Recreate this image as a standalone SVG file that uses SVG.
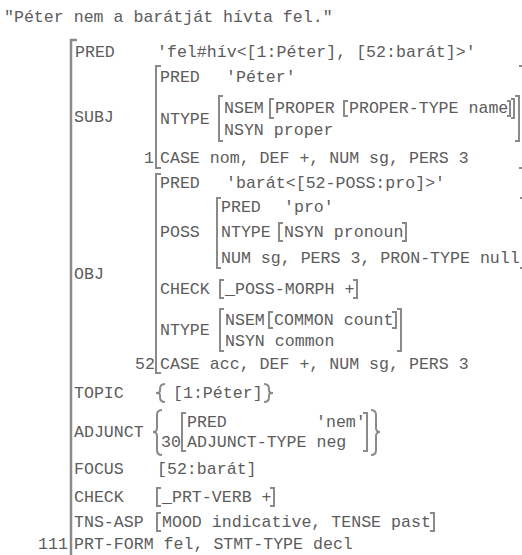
<svg xmlns="http://www.w3.org/2000/svg" width="522" height="555" viewBox="0 0 522 555">
<style>
text { font-family: "Liberation Mono", "Courier New", monospace; font-size: 16.6px; fill: #5c5c5c; }
.br { fill: none; stroke: #8a8a8a; stroke-width: 2; }
.bo { fill: none; stroke: #8a8a8a; stroke-width: 2.5; }
</style>
<rect width="522" height="555" fill="#fff"/>
<g id="title"><text x="4" y="22">"Péter nem a barátját hívta fel."</text></g>

<g id="brackets">
  <path class="bo" d="M77 40H71V562"/>
  <!-- SUBJ -->
  <path class="br" d="M161 66H156V168H161"/>
  <path class="br" d="M519 66H524V168H519"/>
  <path class="br" d="M223 96H219V141H223"/>
  <path class="br" d="M515 96H519V141H515"/>
  <path class="br" d="M274 99H270V118H274"/>
  <path class="br" d="M511 99H514V118H511"/>
  <path class="br" d="M348 101H344V116H348"/>
  <path class="br" d="M507 101H510V116H507"/>
  <!-- OBJ -->
  <path class="br" d="M161 174H156V373H161"/>
  <path class="br" d="M221 198H217V268H221"/>
  <path class="br" d="M520 198H524V268H520"/>
  <path class="br" d="M283 223H279V241H283"/>
  <path class="br" d="M402 223H406V241H402"/>
  <path class="br" d="M224 280H220V298H224"/>
  <path class="br" d="M353 280H357V298H353"/>
  <path class="br" d="M224 309H220V351H224"/>
  <path class="br" d="M397 309H401V351H397"/>
  <path class="br" d="M273 312H269V328H273"/>
  <path class="br" d="M392 312H396V328H392"/>
  <!-- ADJUNCT -->
  <path class="br" d="M186 413H182V451H186"/>
  <path class="br" d="M363 413H367V451H363"/>
  <!-- CHECK / TNS-ASP -->
  <path class="br" d="M161 488H157V506H161"/>
  <path class="br" d="M270 488H274V506H270"/>
  <path class="br" d="M161 513H157V531H161"/>
  <path class="br" d="M430 513H434V531H430"/>
  <!-- braces -->
  <path class="br" d="M165 384Q160 384 160 389V391Q160 393 156 393Q160 393 160 395V397Q160 402 165 402"/>
  <path class="br" d="M264 384Q269 384 269 389V391Q269 393 273 393Q269 393 269 395V397Q269 402 264 402"/>
  <path class="br" d="M162 410Q157 410 157 415V428Q157 432 153 432Q157 432 157 436V450Q157 455 162 455"/>
  <path class="br" d="M371 410Q376 410 376 415V428Q376 432 380 432Q376 432 376 436V450Q376 455 371 455"/>
</g>

<g id="outer">
  <text x="75" y="57">PRED</text>
  <text x="157" y="57">'fel#hív&lt;[1:Péter], [52:barát]&gt;'</text>
  <text x="74" y="122">SUBJ</text>
  <text x="74" y="279">OBJ</text>
  <text x="74" y="398">TOPIC</text>
  <text x="74" y="437">ADJUNCT</text>
  <text x="74" y="474">FOCUS</text>
  <text x="157" y="474">[52:barát]</text>
  <text x="74" y="502">CHECK</text>
  <text x="162" y="502">_PRT-VERB +</text>
  <text x="74" y="527">TNS-ASP</text>
  <text x="162" y="527">MOOD indicative, TENSE past</text>
  <text x="38" y="549">111</text>
  <text x="74" y="549">PRT-FORM fel, STMT-TYPE decl</text>
</g>

<g id="subj">
  <text x="160" y="82">PRED</text>
  <text x="226" y="82">'Péter'</text>
  <text x="160" y="124">NTYPE</text>
  <text x="224" y="113">NSEM</text>
  <text x="275" y="113">PROPER</text>
  <text x="349" y="113">PROPER-TYPE name</text>
  <text x="224" y="135">NSYN proper</text>
  <text x="144" y="163">1</text>
  <text x="160" y="163">CASE nom, DEF +, NUM sg, PERS 3</text>
</g>

<g id="obj">
  <text x="160" y="188">PRED</text>
  <text x="226" y="188">'barát&lt;[52-POSS:pro]&gt;'</text>
  <text x="160" y="237">POSS</text>
  <text x="160" y="294">CHECK</text>
  <text x="225" y="294">_POSS-MORPH +</text>
  <text x="160" y="335">NTYPE</text>
  <text x="225" y="325">NSEM</text>
  <text x="274" y="325">COMMON count</text>
  <text x="225" y="346">NSYN common</text>
  <text x="135" y="369">52</text>
  <text x="160" y="369">CASE acc, DEF +, NUM sg, PERS 3</text>
</g>

<g id="poss">
  <text x="221" y="212">PRED</text>
  <text x="284" y="212">'pro'</text>
  <text x="221" y="237">NTYPE</text>
  <text x="284" y="237">NSYN pronoun</text>
  <text x="221" y="263">NUM sg, PERS 3, PRON-TYPE null</text>
</g>

<g id="topic">
  <text x="173" y="398">[1:Péter]</text>
</g>

<g id="adjunct">
  <text x="187" y="427">PRED</text>
  <text x="316" y="427">'nem'</text>
  <text x="161" y="447">30</text>
  <text x="187" y="447">ADJUNCT-TYPE neg</text>
</g>
</svg>
